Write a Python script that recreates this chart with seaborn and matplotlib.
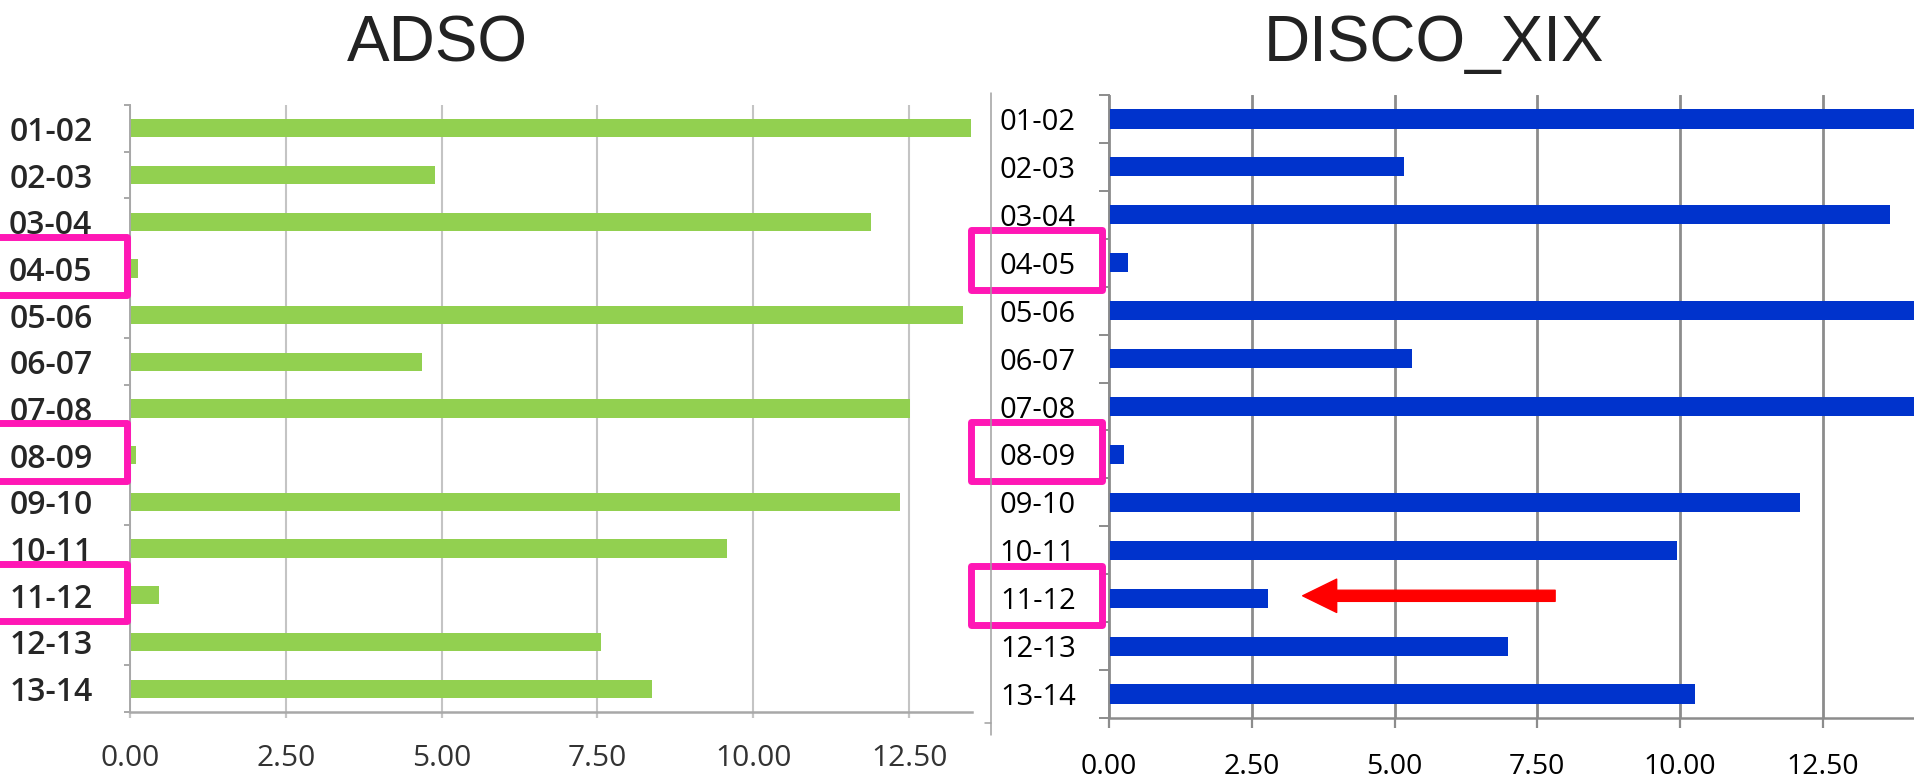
import matplotlib
matplotlib.use("Agg")
import matplotlib.pyplot as plt
import matplotlib.transforms as mtransforms
from matplotlib.patches import Rectangle, FancyArrowPatch, ArrowStyle
from matplotlib.lines import Line2D
from matplotlib.ticker import FixedLocator
import seaborn as sns

# School years and the per-year values of the two corpora
periods = ["01-02", "02-03", "03-04", "04-05", "05-06", "06-07", "07-08",
           "08-09", "09-10", "10-11", "11-12", "12-13", "13-14"]
adso = [13.49, 4.89, 11.89, 0.13, 13.37, 4.69, 12.52, 0.10, 12.36, 9.58, 0.47, 7.56, 8.37]
disco = [14.50, 5.16, 13.67, 0.33, 14.50, 5.30, 14.50, 0.26, 12.09, 9.95, 2.79, 6.98, 10.25]
x_ticks = [0, 2.5, 5, 7.5, 10, 12.5]
x_tick_labels = ["0.00", "2.50", "5.00", "7.50", "10.00", "12.50"]
highlighted = ["04-05", "08-09", "11-12"]
titles = ["ADSO", "DISCO_XIX"]

W, H, DPI = 1915, 778, 100

sns.set_theme(style="white")
plt.rcParams["font.family"] = ["Open Sans", "DejaVu Sans"]

fig = plt.figure(figsize=(W / DPI, H / DPI), dpi=DPI)


def px_rect(left, top, right, bottom):
    return [left / W, 1 - bottom / H, (right - left) / W, (bottom - top) / H]


ax_l = fig.add_axes(px_rect(130, 105, 972, 712))
ax_r = fig.add_axes(px_rect(1109, 95, 1915, 718))

sns.barplot(x=adso, y=periods, orient="h", color="#92d050", saturation=1,
            width=0.39, linewidth=0, ax=ax_l)
sns.barplot(x=disco, y=periods, orient="h", color="#0033cc", saturation=1,
            width=0.40, linewidth=0, ax=ax_r)


def style_axis(ax, xmax, axis_color, grid_color, grid_lw, ytick_len, xtick_len,
               ylab_kw, xlab_size, ylab_pad, xlab_pad, label_color):
    ax.set_xlim(0, xmax)
    ax.set_ylim(len(periods) - 0.5, -0.5)
    ax.set_xlabel("")
    ax.set_ylabel("")
    for side in ("top", "right"):
        ax.spines[side].set_visible(False)
    ax.spines["left"].set_color(axis_color)
    ax.spines["left"].set_linewidth(1.4)
    ax.spines["bottom"].set_color(axis_color)
    ax.spines["bottom"].set_linewidth(1.8)

    ax.xaxis.set_major_locator(FixedLocator(x_ticks))
    ax.set_xticklabels(x_tick_labels, fontsize=xlab_size, color=label_color)
    ax.grid(axis="x", color=grid_color, linewidth=grid_lw)
    ax.grid(axis="y", visible=False)
    ax.set_axisbelow(True)

    ax.yaxis.set_minor_locator(FixedLocator([i - 0.5 for i in range(len(periods) + 1)]))
    ax.tick_params(axis="y", which="major", length=0, pad=ylab_pad)
    ax.tick_params(axis="y", which="minor", left=True, length=ytick_len,
                   width=1.4, color=axis_color)
    ax.tick_params(axis="x", which="major", bottom=True, length=xtick_len,
                   width=1.6, color=grid_color, pad=xlab_pad)
    for lab in ax.get_yticklabels():
        lab.set(**ylab_kw)


style_axis(ax_l, 13.51, "#a8a8a8", "#c4c4c4", 1.5, 4.5, 4,
           dict(fontsize=23, fontweight="semibold", color="#262626"),
           21.5, 27, 19, "#333333")
style_axis(ax_r, 14.11, "#8c8c8c", "#8c8c8c", 2.0, 7, 7,
           dict(fontsize=21, color="#000000"),
           20.5, 24, 18, "#000000")

# Titles above each panel
fig.text(437 / W, 1 - 61 / H, titles[0], ha="center", va="baseline",
         fontsize=46, color="#222222", family=["Liberation Sans Narrow", "Liberation Sans"])
fig.text(1434 / W, 1 - 61 / H, titles[1], ha="center", va="baseline",
         fontsize=46, color="#222222", family=["Liberation Sans", "DejaVu Sans"])

# Frame edge of the second chart
fig.add_artist(Line2D([991 / W, 991 / W], [1 - 93 / H, 1 - 735 / H],
                      color="#a0a0a0", linewidth=1.1))
fig.add_artist(Line2D([985 / W, 991 / W], [1 - 723 / H, 1 - 723 / H],
                      color="#a0a0a0", linewidth=1.1))

# Magenta boxes around the highlighted years
box_color = "#ff17b5"
for ax, x0, x1 in ((ax_l, -0.157, -0.004), (ax_r, -0.171, -0.0087)):
    trans = mtransforms.blended_transform_factory(ax.transAxes, ax.transData)
    for name in highlighted:
        idx = periods.index(name)
        rect = Rectangle((x0, idx - 0.06 - 0.62), x1 - x0, 1.24, transform=trans,
                         fill=False, edgecolor=box_color, linewidth=5.0,
                         joinstyle="round", clip_on=False, zorder=5)
        ax.add_patch(rect)

# Red arrow pointing at the 11-12 bar of the second chart
arrow_row = periods.index("11-12")
arrow = FancyArrowPatch((7.81, arrow_row - 0.05), (3.39, arrow_row - 0.05),
                        arrowstyle=ArrowStyle.Simple(head_length=24.5, head_width=24,
                                                     tail_width=8),
                        mutation_scale=1, color="#ff0000", shrinkA=0, shrinkB=0,
                        zorder=6)
ax_r.add_patch(arrow)

fig.savefig("out.png", dpi=DPI)
